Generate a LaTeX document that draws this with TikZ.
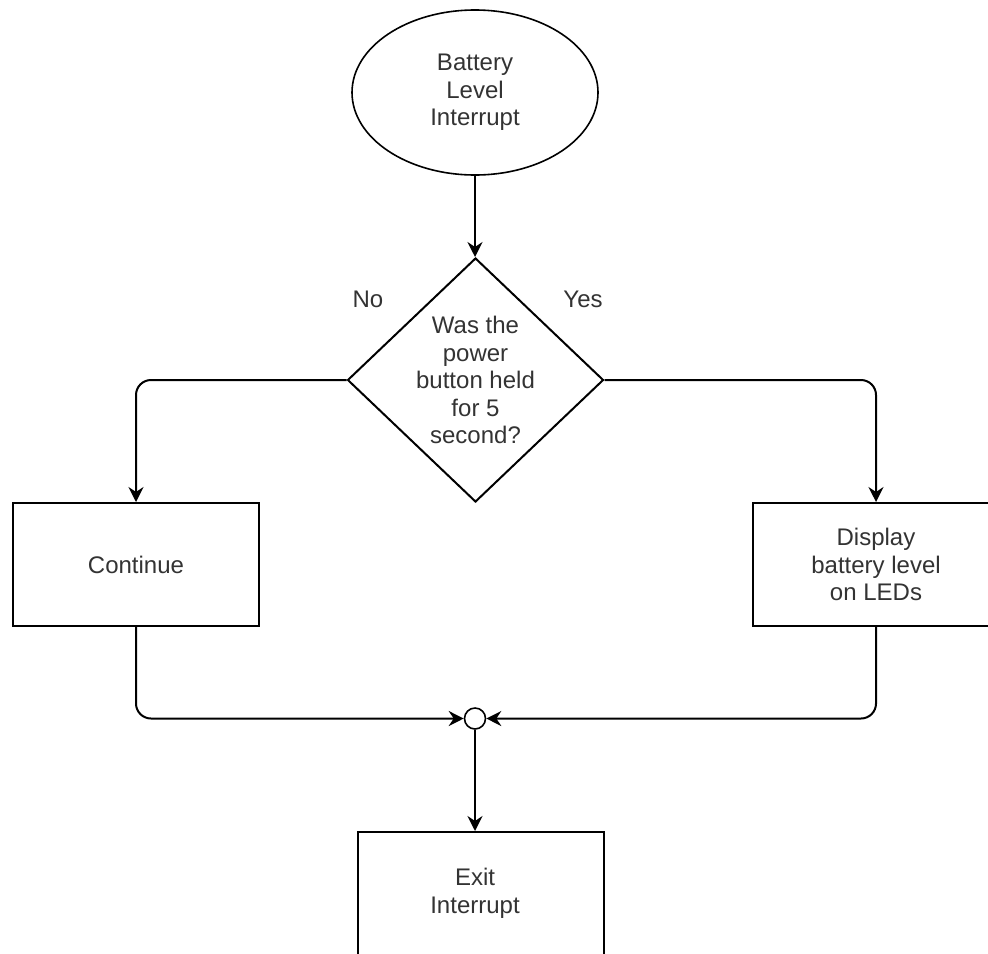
\documentclass[tikz,border=0pt]{standalone}
\usepackage{fontspec}
\setmainfont{Liberation Sans}
\usetikzlibrary{shapes.geometric,arrows.meta}
\begin{document}
\begin{tikzpicture}[x=0.5pt,y=-0.5pt,
  every node/.style={font=\fontsize{12}{13.75}\selectfont, text=black!80, align=center},
  flowline/.style={line width=1pt, draw=black, rounded corners=7.5pt},
  arrowed/.style={flowline, -{Stealth[length=7.5pt,width=7.5pt,inset=2.5pt]}},
  procbox/.style={draw=black, line width=1pt, rectangle, minimum width=123pt, minimum height=61.5pt, inner sep=0pt},
  startshape/.style={draw=black, line width=0.8pt, ellipse, minimum width=123pt, minimum height=82.5pt, inner sep=0pt},
  decision/.style={draw=black, line width=1pt, diamond, minimum width=128pt, minimum height=122pt, inner sep=0pt},
  junction/.style={draw=black, line width=0.8pt, circle, minimum size=10.5pt, inner sep=0pt}]
  \useasboundingbox (0,0) rectangle (988,953);

  % shapes
  \node[startshape] (start) at (475,92.5) {Battery\\Level\\Interrupt};
  \node[decision] (q) at (475.5,380) {};
  \node (qtext) at (475.5,380) {Was the\\power\\button held\\for 5\\second?};
  \node[procbox] (cont) at (136,564.5) {Continue};
  \node[procbox] (disp) at (876,564.5) {Display\\battery level\\on LEDs};
  \node[junction] (join) at (475,718.5) {};
  \node[procbox] (exit) at (480.5,893.5) {};
  \node (exittext) at (475,893.5) {Exit\\Interrupt};

  % branch labels
  \node (no) at (368,299) {No};
  \node (yes) at (583,299) {Yes};

  % connectors
  \draw[arrowed] (start.south) -- (start.south |- q.north);
  \draw[arrowed] (q.west) -| (cont.north);
  \draw[arrowed] (q.east) -| (disp.north);
  \draw[arrowed] (cont.south) |- (join.west);
  \draw[arrowed] (disp.south) |- (join.east);
  \draw[arrowed] (join.south) -- (join |- exit.north);
\end{tikzpicture}
\end{document}
